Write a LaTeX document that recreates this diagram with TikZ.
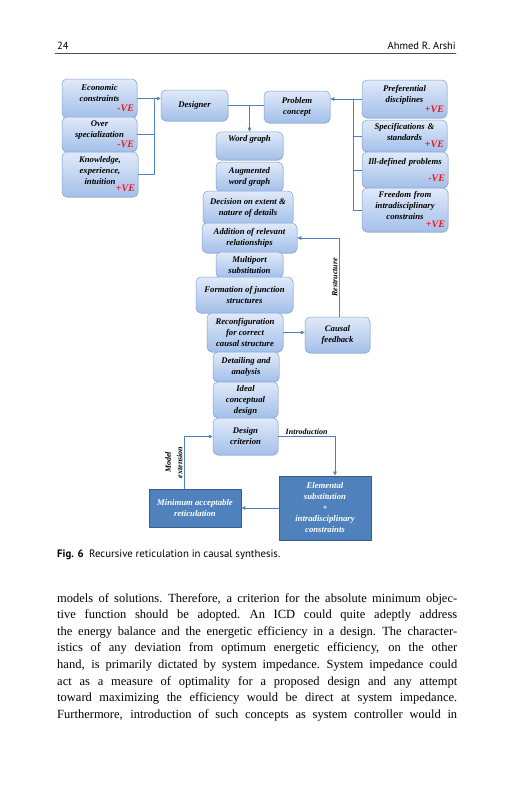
\documentclass[tikz,border=0pt]{standalone}
\usepackage{fontspec}
\newfontfamily\timesfont{Liberation Serif}
\newfontfamily\pagefont{PT Sans}
\usetikzlibrary{arrows.meta,shadows}
\definecolor{boxtop}{RGB}{224,234,249}
\definecolor{boxbot}{RGB}{163,191,233}
\definecolor{boxline}{RGB}{128,161,211}
\definecolor{linkblue}{RGB}{79,129,189}
\definecolor{darkfill}{RGB}{79,129,189}
\definecolor{darkline}{RGB}{56,93,138}
\definecolor{vered}{RGB}{250,20,20}
% red -VE / +VE tag, flush right on the last line of a box
\newcommand\vetag[2][-1pt]{\\[#1]\hspace*{0pt plus 1filll}{\color{vered}\fontsize{10}{10}\selectfont #2}}
% one justified line of the running text
\newcommand\textline[1]{\hbox to 400pt{\spaceskip=0.25em plus 1em minus 0.05em\relax
  \xspaceskip=0.3em plus 1em\relax #1}}
\begin{document}
\begin{tikzpicture}[x=1pt,y=-1pt,line cap=round,line join=round,
  >={Triangle[length=4pt,width=3.5pt]},
  box/.style={draw=boxline,line width=0.5pt,rounded corners=5pt,top color=boxtop,bottom color=boxbot,
    drop shadow={shadow xshift=0.6pt,shadow yshift=-0.9pt,opacity=0.2},
    font=\timesfont\bfseries\itshape\fontsize{8.7}{11}\selectfont,align=center,inner sep=3pt},
  vebox/.style={box,text width=#1},
  darkbox/.style={draw=darkline,line width=0.9pt,fill=darkfill,text=white,
    font=\timesfont\bfseries\itshape\fontsize{8.7}{11}\selectfont,align=center,inner sep=3pt},
  link/.style={draw=linkblue,line width=0.6pt},
  flow/.style={link,->},
  tag/.style={font=\timesfont\bfseries\itshape\fontsize{8}{9.5}\selectfont,inner sep=1.2pt}]
  \fill[white] (0,0) rectangle (531,800);
  \useasboundingbox (0,0) rectangle (531,800);
  % running head
  \node[font=\pagefont\fontsize{10.5}{12}\selectfont,anchor=base west,inner sep=0] (pgnum) at (57,50) {24};
  \node[font=\pagefont\fontsize{10.5}{12}\selectfont,anchor=base east,inner sep=0] (author) at (456,50) {Ahmed R. Arshi};
  \draw[line width=0.5pt,black!70] (55,53) -- (456,53);
  % left column
  \node[vebox=69pt,minimum height=39pt] (econ) at (99.5,98.5) {Economic\\constraints\vetag{-VE}};
  \node[vebox=69pt,minimum height=35pt] (over) at (99.5,134.5) {Over\\specialization\vetag{-VE}};
  \node[vebox=70pt,minimum height=45pt] (know) at (100,174.5) {Knowledge,\\experience,\\intuition\vetag[-4pt]{+VE}};
  % top row
  \node[box,minimum width=67pt,minimum height=31pt] (designer) at (194.5,105.5) {Designer};
  \node[box,minimum width=66pt,minimum height=32pt] (problem) at (297,107) {Problem\\concept};
  % right column
  \node[vebox=79pt,minimum height=38pt] (prefer) at (404.5,99) {Preferential\\disciplines\vetag{+VE}};
  \node[vebox=79pt,minimum height=32pt] (specs) at (404.5,136) {Specifications \&\\standards\vetag[-4pt]{+VE}};
  \node[vebox=80pt,minimum height=36pt] (illdef) at (405,170) {Ill-defined problems\vetag[6pt]{-VE}};
  \node[vebox=80pt,minimum height=44pt] (freedom) at (405,210) {Freedom from\\intradisciplinary\\constrains\vetag[-3pt]{+VE}};
  % central column
  \node[box,minimum width=67pt,minimum height=28pt] (wordg) at (249.5,146) {Word graph\\[5pt]};
  \node[box,minimum width=67pt,minimum height=30pt] (augw) at (249.5,177) {Augmented\\word graph};
  \node[box,minimum width=90pt,minimum height=34pt] (extent) at (248,208) {Decision on extent \&\\nature of details};
  \node[box,minimum width=95pt,minimum height=30pt] (relat) at (249.5,238) {Addition of relevant\\relationships};
  \node[box,minimum width=67pt,minimum height=26pt] (multip) at (249.5,265) {Multiport\\substitution};
  \node[box,minimum width=97pt,minimum height=36pt] (junct) at (244.5,295) {Formation of junction\\structures};
  \node[box,minimum width=76pt,minimum height=39pt] (reconf) at (245,332.5) {Reconfiguration\\for correct\\causal structure};
  \node[box,minimum width=65pt,minimum height=36pt] (causal) at (337.5,335) {Causal\\feedback};
  \node[box,minimum width=66pt,minimum height=30pt] (detail) at (246,367) {Detailing and\\analysis};
  \node[box,minimum width=65pt,minimum height=36pt] (ideal) at (245.5,400) {Ideal\\conceptual\\design};
  \node[box,minimum width=65pt,minimum height=37pt] (crit) at (245.5,436.5) {Design\\criterion};
  % bottom row
  \node[darkbox,minimum width=92pt,minimum height=64pt] (elem) at (325,508) {Elemental\\substitution\\+\\intradisciplinary\\constraints};
  \node[darkbox,minimum width=92pt,minimum height=38pt] (minim) at (195,508) {Minimum acceptable\\reticulation};
  % connectors
  \coordinate (lbus) at (154,100);
  \foreach \n in {econ,over,know} \draw[link] (\n.east) -- (\n.east -| lbus);
  \draw[link] (econ.east -| lbus) -- (know.east -| lbus);
  \draw[flow] (econ.east -| lbus) -- (econ.east -| designer.west);
  \draw[link] (designer.east) -- (designer.east -| problem.west);
  \draw[flow] (designer.east -| wordg.north) -- (wordg.north);
  \coordinate (rbus) at (353,100);
  \foreach \n in {prefer,specs,illdef,freedom} \draw[link] (\n.west) -- (\n.west -| rbus);
  \draw[link] (prefer.west -| rbus) -- (freedom.west -| rbus);
  \draw[flow] (prefer.west -| rbus) -- (prefer.west -| problem.east);
  \draw[flow] (reconf.east) -- (reconf.east -| causal.west);
  \draw[flow] ([xshift=1.5pt]causal.north) |- node[pos=0.25,tag,rotate=90,above]{Restructure} (relat.east);
  \draw[flow] (crit.east) -| node[pos=0.25,tag,above]{Introduction} ([xshift=10pt]elem.north);
  \draw[flow] (elem.west) -- (elem.west -| minim.east);
  \draw[flow] ([xshift=-11pt]minim.north) |- node[pos=0.25,tag,rotate=90,above,align=center]{Model\\[2pt]extension} (crit.west);
  % caption and running text
  \node[font=\pagefont\fontsize{10.8}{12}\selectfont,anchor=base west,inner sep=0] (caption) at (57,557)
    {\textbf{Fig. 6}\enspace Recursive reticulation in causal synthesis.};
  \node[anchor=north west,inner sep=0,text width=400pt,align=left,
    font=\timesfont\fontsize{12.5}{16.6}\selectfont] (body) at (57,593) {%
    \textline{models of solutions. Therefore, a criterion for the absolute minimum objec-}
    \textline{tive function should be adopted. An ICD could quite adeptly address}
    \textline{the energy balance and the energetic efficiency in a design. The character-}
    \textline{istics of any deviation from optimum energetic efficiency, on the other}
    \textline{hand, is primarily dictated by system impedance. System impedance could}
    \textline{act as a measure of optimality for a proposed design and any attempt}
    \textline{toward maximizing the efficiency would be direct at system impedance.}
    \textline{Furthermore, introduction of such concepts as system controller would in}};
\end{tikzpicture}
\end{document}
